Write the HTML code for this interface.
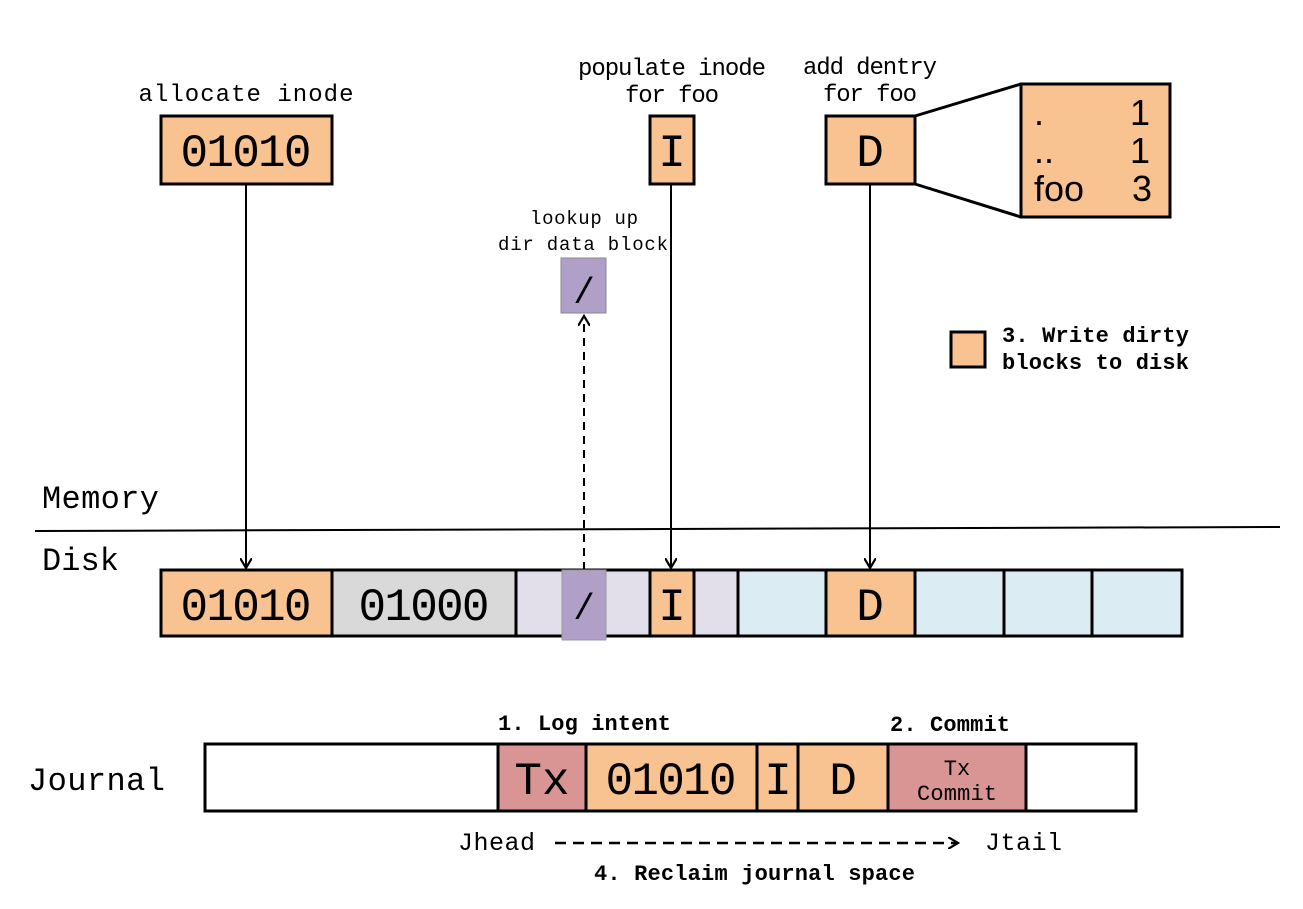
<!DOCTYPE html>
<html><head><meta charset="utf-8"><style>body{margin:0;background:#fff}svg{display:block}</style></head><body>
<svg width="1303" height="909" viewBox="0 0 1303 909" xmlns="http://www.w3.org/2000/svg" font-family="Liberation Mono, monospace">
<defs><marker id="a" markerWidth="12" markerHeight="12" refX="10" refY="6" orient="auto" markerUnits="userSpaceOnUse"><path d="M0,0 L10,6 L0,12" fill="none" stroke="#000" stroke-width="2.2"/></marker></defs>
<g stroke="#000" stroke-width="3">
<rect x="161" y="116" width="171" height="68" fill="#f9c291"/>
<rect x="650" y="116" width="44" height="68" fill="#f9c291"/>
<rect x="826" y="116" width="89" height="68" fill="#f9c291"/>
<rect x="1021" y="84" width="149" height="133" fill="#f9c291"/>
<line x1="915" y1="116" x2="1021" y2="84"/><line x1="915" y1="184" x2="1021" y2="217"/>
<rect x="951" y="332" width="34" height="35" fill="#f9c291"/>
</g>
<rect x="561" y="258" width="45" height="55" fill="#b0a0c8" stroke="#888" stroke-width="1"/>
<g stroke="#000" stroke-width="2" fill="none">
<line x1="246" y1="184" x2="246" y2="568" marker-end="url(#a)"/>
<line x1="671" y1="184" x2="671" y2="568" marker-end="url(#a)"/>
<line x1="870" y1="184" x2="870" y2="568" marker-end="url(#a)"/>
<line x1="584" y1="570" x2="584" y2="316" stroke-dasharray="8,6" marker-end="url(#a)"/>
<line x1="35" y1="531" x2="1280" y2="527"/>
</g>
<g stroke="#000" stroke-width="3">
<rect x="161" y="570" width="1021" height="66" fill="#fff"/>
<rect x="161" y="570" width="171" height="66" fill="#f9c291"/>
<rect x="332" y="570" width="184" height="66" fill="#d9d9d9"/>
<rect x="516" y="570" width="134" height="66" fill="#e2dfea"/>
<rect x="694" y="570" width="44" height="66" fill="#e2dfea"/>
<rect x="738" y="570" width="88" height="66" fill="#dbecf3"/>
<rect x="915" y="570" width="89" height="66" fill="#dbecf3"/>
<rect x="1004" y="570" width="88" height="66" fill="#dbecf3"/>
<rect x="1092" y="570" width="90" height="66" fill="#dbecf3"/>
<rect x="650" y="570" width="44" height="66" fill="#f9c291"/>
<rect x="826" y="570" width="89" height="66" fill="#f9c291"/>
</g>
<rect x="562" y="570" width="44" height="70" fill="#b0a0c8" stroke="#999" stroke-width="1"/>
<g stroke="#000" stroke-width="3">
<rect x="205" y="744" width="931" height="67" fill="#fff"/>
<rect x="498" y="744" width="88" height="67" fill="#d99594"/>
<rect x="586" y="744" width="171" height="67" fill="#f9c291"/>
<rect x="757" y="744" width="41" height="67" fill="#f9c291"/>
<rect x="798" y="744" width="90" height="67" fill="#f9c291"/>
<rect x="888" y="744" width="138" height="67" fill="#d99594"/>
</g>
<line x1="555" y1="843" x2="958" y2="843" stroke="#000" stroke-width="2.5" stroke-dasharray="11,7" marker-end="url(#a)"/>
<g fill="#000" font-size="24">
<text x="246" y="101" text-anchor="middle" textLength="215">allocate inode</text>
<text x="672" y="75" text-anchor="middle" textLength="188">populate inode</text>
<text x="672" y="102" text-anchor="middle" textLength="94">for foo</text>
<text x="870" y="74" text-anchor="middle" textLength="134">add dentry</text>
<text x="870" y="101" text-anchor="middle" textLength="94">for foo</text>
<text x="584" y="224" text-anchor="middle" font-size="19" textLength="108">lookup up</text>
<text x="583" y="250" text-anchor="middle" font-size="19" textLength="170">dir data block</text>
<g font-weight="bold" font-size="22">
<text x="1002" y="342" textLength="187">3. Write dirty</text>
<text x="1002" y="369" textLength="187">blocks to disk</text>
<text x="498" y="730" textLength="173">1. Log intent</text>
<text x="890" y="731" textLength="120">2. Commit</text>
<text x="594" y="880" textLength="321">4. Reclaim journal space</text>
</g>
<text x="458" y="850" font-size="25" textLength="77">Jhead</text>
<text x="985" y="850" font-size="25" textLength="77">Jtail</text>
<text x="42" y="508" font-size="32" textLength="117">Memory</text>
<text x="42" y="570" font-size="32" textLength="77">Disk</text>
<text x="28" y="790" font-size="32" textLength="137">Journal</text>
<g font-size="46">
<text x="246" y="166" text-anchor="middle" textLength="131">01010</text>
<text x="672" y="166" text-anchor="middle">I</text>
<text x="870" y="166" text-anchor="middle">D</text>
<text x="246" y="620" text-anchor="middle" textLength="131">01010</text>
<text x="424" y="620" text-anchor="middle" textLength="131">01000</text>
<text x="584" y="619" text-anchor="middle" font-size="36">/</text>
<text x="672" y="620" text-anchor="middle">I</text>
<text x="870" y="620" text-anchor="middle">D</text>
<text x="542" y="794" text-anchor="middle">Tx</text>
<text x="671" y="794" text-anchor="middle" textLength="131">01010</text>
<text x="778" y="794" text-anchor="middle">I</text>
<text x="843" y="794" text-anchor="middle">D</text>
</g>
<text x="584" y="303" text-anchor="middle" font-size="36">/</text>
<text x="957" y="775" text-anchor="middle" font-size="22">Tx</text>
<text x="957" y="800" text-anchor="middle" font-size="22" textLength="80">Commit</text>
<g font-family="Liberation Sans, sans-serif" font-size="36">
<text x="1034" y="125">.</text><text x="1150" y="125" text-anchor="end">1</text>
<text x="1034" y="163">..</text><text x="1150" y="163" text-anchor="end">1</text>
<text x="1034" y="201">foo</text><text x="1152" y="201" text-anchor="end">3</text>
</g>
</g>
</svg>
</body></html>
